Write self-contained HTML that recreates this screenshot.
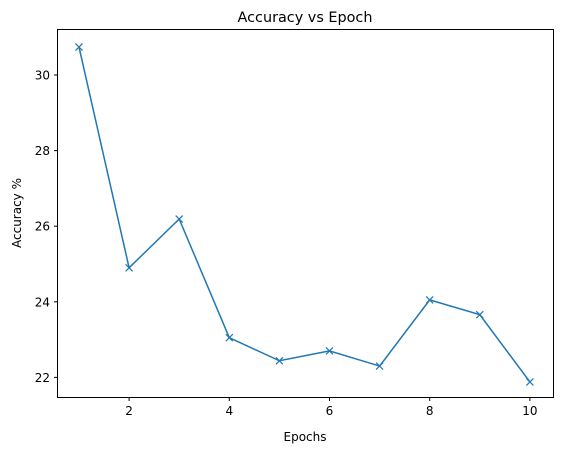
<!DOCTYPE html>
<html><head><meta charset="utf-8"><style>
body{margin:0;background:#fff;font-family:"Liberation Sans","DejaVu Sans",sans-serif}
svg text{font-family:"DejaVu Sans","Liberation Sans",sans-serif}
</style></head><body>
<svg id="chart" width="563" height="453">
<rect x="57.5" y="29.5" width="496" height="368" fill="#fff" stroke="#000" stroke-width="1"/>
<text x="305" y="22" text-anchor="middle" font-size="14.4">Accuracy vs Epoch</text>
<text x="305" y="441" text-anchor="middle" font-size="12">Epochs</text>
<text x="21" y="213" text-anchor="middle" font-size="12" transform="rotate(-90 21 213)">Accuracy %</text>
<g id="ticks"></g>
<g id="marks"></g>
</svg>
<script>
const epochs=[1,2,3,4,5,6,7,8,9,10];
const accuracy=[30.74,24.9,26.19,23.05,22.44,22.70,22.30,24.05,23.66,21.88];
const xTicks=[2,4,6,8,10];
const yTicks=[22,24,26,28,30];
const xs=v=>79+(v-1)*50.1;
const ys=v=>75+(30-v)*37.8;
const NS="http://www.w3.org/2000/svg";
const tg=document.getElementById('ticks'),mg=document.getElementById('marks');
function mk(t,a,p){const e=document.createElementNS(NS,t);for(const k in a)e.setAttribute(k,a[k]);p.appendChild(e);return e;}
xTicks.forEach(v=>{const x=xs(v);
const l=mk('line',{x1:x,x2:x,y1:397.5,y2:401,stroke:'#000'},tg);


const t=mk('text',{x:x,y:415,'text-anchor':'middle','font-size':12},tg);t.textContent=v;

});
yTicks.forEach(v=>{const y=ys(v);
const l=mk('line',{x1:54,x2:57.5,y1:y,y2:y,stroke:'#000'},tg);


const t=mk('text',{x:50,y:y+4.5,'text-anchor':'end','font-size':12},tg);t.textContent=v;

});
const pts=epochs.map((e,i)=>xs(e)+','+ys(accuracy[i])).join(' ');
const pl=mk('polyline',{points:pts,fill:'none',stroke:'#1f77b4','stroke-width':1.5},mg);


epochs.forEach((e,i)=>{const x=xs(e),y=ys(accuracy[i]),s=3.5;
const p=mk('path',{d:`M${x-s},${y-s}L${x+s},${y+s}M${x-s},${y+s}L${x+s},${y-s}`,stroke:'#1f77b4','stroke-width':1.2},mg);

});
</script>
</body></html>
